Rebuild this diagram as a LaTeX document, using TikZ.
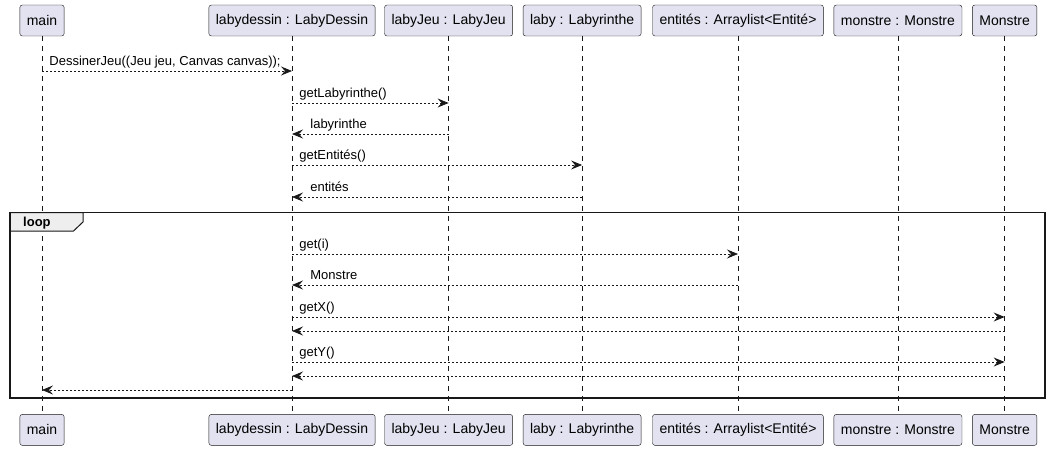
\documentclass[tikz,border=0pt]{standalone}
\usepackage{fontspec}
\setmainfont{Liberation Sans}
\usetikzlibrary{arrows.meta,positioning}
\definecolor{partfill}{HTML}{E2E2F0}
\definecolor{partline}{HTML}{181818}
\definecolor{tabfill}{HTML}{EEEEEE}

\begin{document}
\begin{tikzpicture}[
    x=1pt, y=-1pt,
    node distance=10pt,
    every node/.style={font=\fontsize{13}{15}\selectfont},
    actor/.style={rectangle, draw=partline, fill=partfill, rounded corners=2.5pt, minimum height=31pt, inner xsep=7pt, inner ysep=0pt, font=\fontsize{14}{16}\selectfont},
    life/.style={draw=partline, dash pattern=on 5pt off 5pt, line width=0.6pt},
    msg/.style={-{Stealth[length=11pt,width=9pt,inset=4pt]}, draw=partline, dash pattern=on 2pt off 2pt, line width=0.8pt},
    lbl/.style={anchor=base west, inner sep=0pt},
]
\useasboundingbox (0,0) rectangle (1050,452);

% Participants (top row)
\node[actor] (mainT) at (42,20.5) {main};
\node[actor] (dessinT) at (292,20.5) {labydessin : LabyDessin};
\node[actor, right=9pt of dessinT] (jeuT) {labyJeu : LabyJeu};
\node[actor, right=of jeuT] (labyT) {laby : Labyrinthe};
\node[actor, right=11pt of labyT] (entT) {entités : Arraylist<Entité>};
\node[actor, right=of entT] (monT) {monstre : Monstre};
\node[actor, right=of monT] (classT) {Monstre};

% Participants (bottom row)
\node[actor, below=378pt of mainT] (mainB) {main};
\node[actor, below=378pt of dessinT] (dessinB) {labydessin : LabyDessin};
\node[actor, below=378pt of jeuT] (jeuB) {labyJeu : LabyJeu};
\node[actor, below=378pt of labyT] (labyB) {laby : Labyrinthe};
\node[actor, below=378pt of entT] (entB) {entités : Arraylist<Entité>};
\node[actor, below=378pt of monT] (monB) {monstre : Monstre};
\node[actor, below=378pt of classT] (classB) {Monstre};

% Lifelines
\draw[life] (mainT) -- (mainB);
\draw[life] (dessinT) -- (dessinB);
\draw[life] (jeuT) -- (jeuB);
\draw[life] (labyT) -- (labyB);
\draw[life] (entT) -- (entB);
\draw[life] (monT) -- (monB);
\draw[life] (classT) -- (classB);

% Loop frame
\draw[line width=1pt, draw=partline, fill=tabfill] (10,212.5) -- (83,212.5) -- (83,222) -- (73.5,231) -- (10,231) -- cycle;
\node[lbl, font=\fontsize{13}{15}\selectfont\bfseries] (loopTxt) at (23,226.5) {loop};
\draw[line width=1.5pt, draw=partline] (10,212.5) rectangle (1045,398);

% Message rows
\coordinate (r1) at (0,71);
\coordinate (r2) at (0,103);
\coordinate (r3) at (0,134);
\coordinate (r4) at (0,165);
\coordinate (r5) at (0,197);
\coordinate (r6) at (0,254);
\coordinate (r7) at (0,285);
\coordinate (r8) at (0,317);
\coordinate (r9) at (0,331);
\coordinate (r10) at (0,362);
\coordinate (r11) at (0,376);
\coordinate (r12) at (0,390);

% Messages
\draw[msg] (mainT |- r1) -- (dessinT |- r1) node[lbl, pos=0, xshift=7pt, yshift=5pt] {DessinerJeu((Jeu jeu, Canvas canvas));};
\draw[msg] (dessinT |- r2) -- (jeuT |- r2) node[lbl, pos=0, xshift=7pt, yshift=5.5pt] {getLabyrinthe()};
\draw[msg] (jeuT |- r3) -- (dessinT |- r3) node[lbl, pos=1, xshift=18pt, yshift=5.5pt] {labyrinthe};
\draw[msg] (dessinT |- r4) -- (labyT |- r4) node[lbl, pos=0, xshift=7pt, yshift=5.5pt] {getEntités()};
\draw[msg] (labyT |- r5) -- (dessinT |- r5) node[lbl, pos=1, xshift=18pt, yshift=5.5pt] {entités};
\draw[msg] (dessinT |- r6) -- (entT |- r6) node[lbl, pos=0, xshift=7pt, yshift=5.5pt] {get(i)};
\draw[msg] (entT |- r7) -- (dessinT |- r7) node[lbl, pos=1, xshift=18pt, yshift=5.5pt] {Monstre};
\draw[msg] (dessinT |- r8) -- (classT |- r8) node[lbl, pos=0, xshift=7pt, yshift=5.5pt] {getX()};
\draw[msg] (classT |- r9) -- (dessinT |- r9);
\draw[msg] (dessinT |- r10) -- (classT |- r10) node[lbl, pos=0, xshift=7pt, yshift=5.5pt] {getY()};
\draw[msg] (classT |- r11) -- (dessinT |- r11);
\draw[msg] (dessinT |- r12) -- (mainT |- r12);

\end{tikzpicture}
\end{document}
